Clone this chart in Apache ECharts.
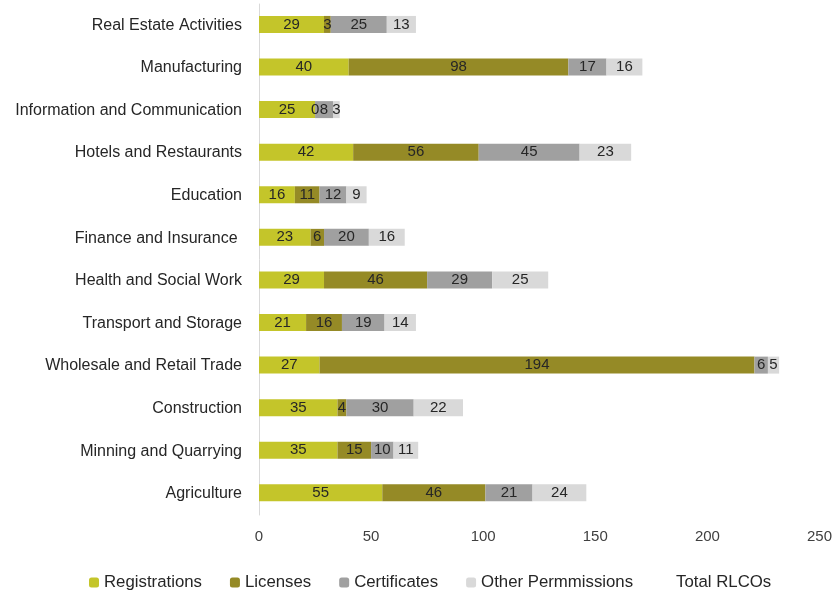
<!DOCTYPE html>
<html><head><meta charset="utf-8">
<script src="https://cdn.jsdelivr.net/npm/echarts@6/dist/echarts.min.js"></script>
<style>html,body{margin:0;padding:0;background:#fff}#c{width:835px;height:593px}</style>
</head><body><div id="c"></div>
<script>
const categories = ["Agriculture","Minning and Quarrying","Construction","Wholesale and Retail Trade","Transport and Storage","Health and Social Work","Finance and Insurance ","Education","Hotels and Restaurants","Information and Communication","Manufacturing","Real Estate Activities"];
const registrations = [55,35,35,27,21,29,23,16,42,25,40,29];
const licenses      = [46,15,4,194,16,46,6,11,56,0,98,3];
const certificates  = [21,10,30,6,19,29,20,12,45,8,17,25];
const otherPerms    = [24,11,22,5,14,25,16,9,23,3,16,13];
const xTicks = [0,50,100,150,200,250];

const font = "Liberation Sans";
const colors = ["#c4c52a","#958a26","#a0a0a0","#d9d9d9"];
function mk(name, data, color){
  return {name, type:'bar', stack:'t', data, barWidth:17,
    itemStyle:{color},
    label:{show:true, position:'inside', color:'#262626', fontFamily:font, fontSize:15}};
}
const chart = echarts.init(document.getElementById('c'));
chart.setOption({
  animation:false,
  grid:{left:259, right:14, top:4, bottom:78, containLabel:false},
  xAxis:{type:'value', min:xTicks[0], max:xTicks[xTicks.length-1], interval:50,
    axisLine:{show:false}, axisTick:{show:false}, splitLine:{show:false},
    axisLabel:{color:'#404040', fontFamily:font, fontSize:15, margin:14}},
  yAxis:{type:'category', data:categories,
    axisLine:{show:true, lineStyle:{color:'#d9d9d9'}}, axisTick:{show:false},
    axisLabel:{color:'#262626', fontFamily:font, fontSize:16, margin:17}},
  legend:{top:569, left:84, itemWidth:10, itemHeight:10, itemGap:28,
    textStyle:{color:'#262626', fontFamily:font, fontSize:16.8},
    data:['Registrations','Licenses','Certificates','Other Permmissions',{name:'Total RLCOs', icon:'none'}]},
  series:[
    mk('Registrations', registrations, colors[0]),
    mk('Licenses', licenses, colors[1]),
    mk('Certificates', certificates, colors[2]),
    mk('Other Permmissions', otherPerms, colors[3]),
    {name:'Total RLCOs', type:'bar', data:[], itemStyle:{color:'transparent'}}
  ]
});
</script></body></html>
